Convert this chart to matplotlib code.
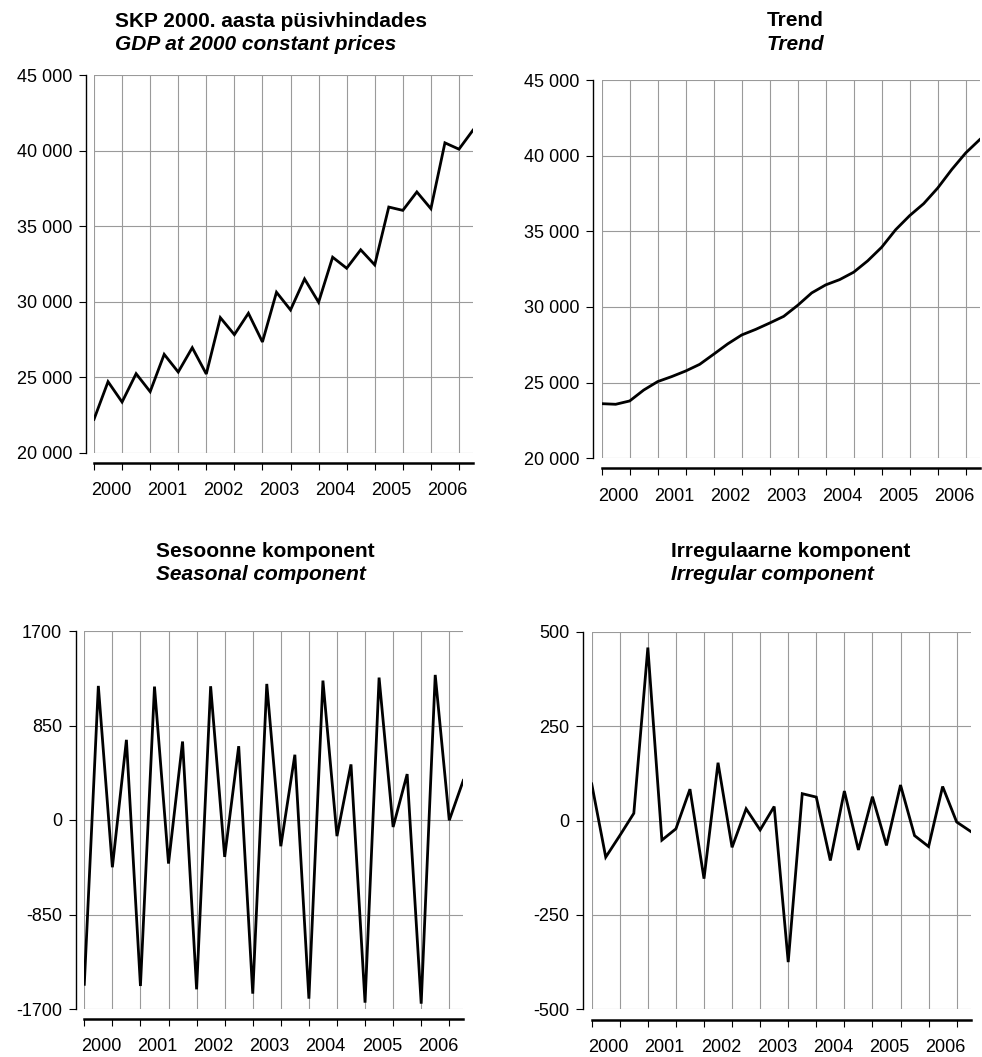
import matplotlib
matplotlib.use('Agg')
import matplotlib.pyplot as plt

plt.rcParams['font.family'] = ['Liberation Sans', 'DejaVu Sans']

# ---------------- data ----------------
years = ['2000', '2001', '2002', '2003', '2004', '2005', '2006']

gdp = [22210, 24700, 23355, 25230, 24040, 26510, 25340, 26950,
       25210, 28940, 27815, 29230, 27330, 30620, 29450, 31500,
       29960, 32940, 32210, 33430, 32430, 36260, 36040, 37260,
       36150, 40510, 40090, 41350]

trend = [23610, 23570, 23790, 24510, 25070, 25400, 25770, 26210,
         26880, 27560, 28150, 28520, 28940, 29380, 30110, 30930,
         31460, 31810, 32300, 33050, 33950, 35110, 36040, 36830,
         37860, 39080, 40180, 41060]

seasonal = [-1478, 1206, -425, 721, -1493, 1200, -392, 706,
            -1523, 1203, -332, 664, -1562, 1224, -236, 587,
            -1607, 1254, -145, 500, -1643, 1281, -63, 413,
            -1652, 1305, -3, 356]

irregular = [97, -97, -40, 19, 458, -52, -22, 83,
             -154, 153, -71, 31, -25, 37, -375, 71,
             62, -106, 78, -78, 63, -66, 94, -40,
             -69, 90, -4, -29]

gdp_ticks = [20000, 25000, 30000, 35000, 40000, 45000]
gdp_ticklabels = ['20 000', '25 000', '30 000', '35 000', '40 000', '45 000']
seas_ticks = [-1700, -850, 0, 850, 1700]
seas_ticklabels = ['-1700', '-850', '0', '850', '1700']
irr_ticks = [-500, -250, 0, 250, 500]
irr_ticklabels = ['-500', '-250', '0', '250', '500']

titles = [
    ('SKP 2000. aasta püsivhindades', 'GDP at 2000 constant prices'),
    ('Trend', 'Trend'),
    ('Sesoonne komponent', 'Seasonal component'),
    ('Irregulaarne komponent', 'Irregular component'),
]

# ---------------- layout (pixels) ----------------
W, H = 982, 1057
fig = plt.figure(figsize=(W / 100, H / 100), dpi=100)

PT = 0.72  # points per pixel at 100 dpi

panels = [
    dict(rect=(94, 75, 473, 452.7), data=gdp, ticks=gdp_ticks, labels=gdp_ticklabels,
         title=titles[0], tpos=(115, 21.7, 45), yoff=8, xoff=10),
    dict(rect=(601.7, 80, 979.7, 458.3), data=trend, ticks=gdp_ticks, labels=gdp_ticklabels,
         title=titles[1], tpos=(767, 20.7, 45), yoff=8.4, xoff=10),
    dict(rect=(84.3, 631, 463.3, 1009), data=seasonal, ticks=seas_ticks, labels=seas_ticklabels,
         title=titles[2], tpos=(156, 551.7, 575), yoff=8.3, xoff=10),
    dict(rect=(591.7, 631.7, 970.7, 1009.3), data=irregular, ticks=irr_ticks, labels=irr_ticklabels,
         title=titles[3], tpos=(671, 551.7, 575), yoff=8.4, xoff=10.7),
]

GRID = '#9a9a9a'
TICKFS = 13
TITLEFS = 15

for p in panels:
    x0, y0, x1, y1 = p['rect']
    ax = fig.add_axes([x0 / W, 1 - y1 / H, (x1 - x0) / W, (y1 - y0) / H])
    data = p['data']
    n = len(data)
    xs = list(range(n))
    ax.plot(xs, data, color='black', lw=2.0, solid_joinstyle='miter', zorder=3)

    ax.set_xlim(0, n - 1)
    ax.set_ylim(p['ticks'][0], p['ticks'][-1])

    # y axis
    ax.set_yticks(p['ticks'])
    ax.set_yticklabels(p['labels'])
    ax.tick_params(axis='y', direction='out', length=5, width=0.8, pad=5,
                   labelsize=TICKFS, colors='black')

    # x axis: major ticks every two quarters, minor (invisible) carry year labels
    ax.set_xticks(list(range(0, n - 1, 2)))
    ax.set_xticklabels([])
    ax.set_xticks([1.2 + 4 * k for k in range(len(years))], minor=True)
    ax.set_xticklabels(years, minor=True)
    ax.tick_params(axis='x', which='major', direction='out', length=5, width=0.8)
    ax.tick_params(axis='x', which='minor', length=0, pad=14, labelsize=TICKFS)

    ax.grid(True, which='major', axis='both', color=GRID, lw=0.8, zorder=1)
    ax.set_axisbelow(True)

    for s in ('top', 'right'):
        ax.spines[s].set_visible(False)
    ax.spines['left'].set_position(('outward', p['yoff'] * PT))
    ax.spines['left'].set_linewidth(1.0)
    ax.spines['bottom'].set_position(('outward', p['xoff'] * PT))
    ax.spines['bottom'].set_linewidth(1.8)

    tx, ty1, ty2 = p['tpos']
    fig.text(tx / W, 1 - ty1 / H, p['title'][0], ha='left', va='center',
             fontsize=TITLEFS, fontweight='bold')
    fig.text(tx / W, 1 - ty2 / H, p['title'][1], ha='left', va='center',
             fontsize=TITLEFS, fontweight='bold', style='italic')

fig.savefig('out.png', dpi=100)
